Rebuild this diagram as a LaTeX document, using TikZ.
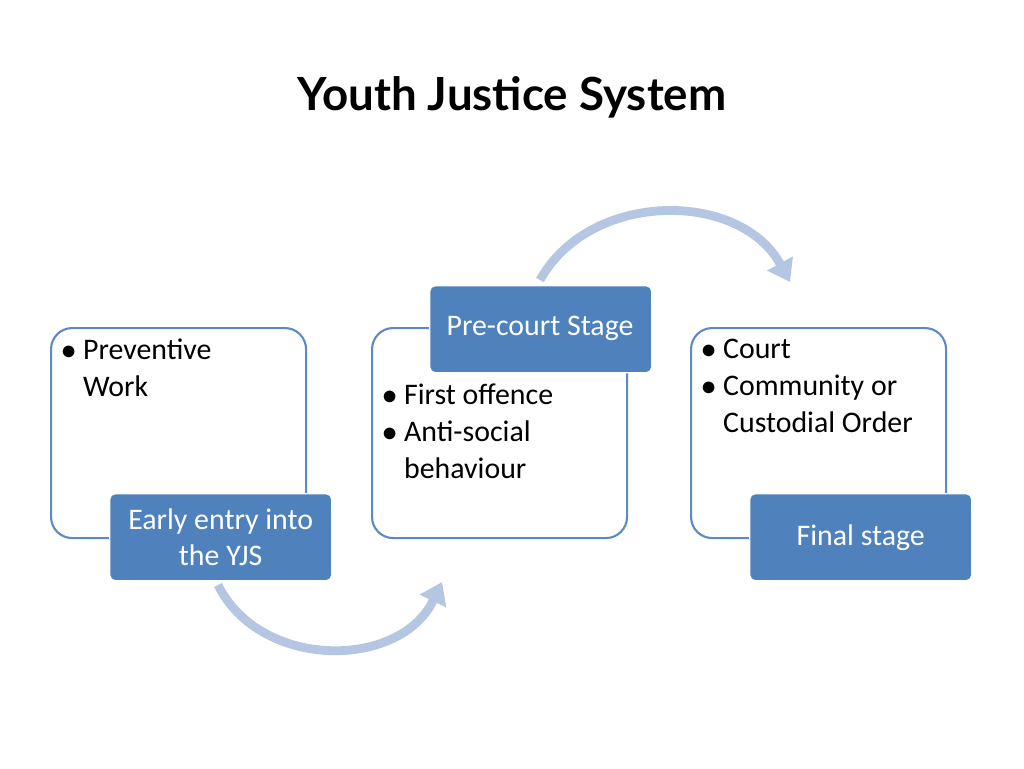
\documentclass[tikz,border=0pt]{standalone}
\usepackage{fontspec}
\setmainfont{Carlito}
\newfontfamily\titlefont{Lato}
\usetikzlibrary{arrows.meta}
\definecolor{boxblue}{HTML}{4F81BD}
\definecolor{lineblue}{HTML}{5B8AC6}
\definecolor{arcblue}{HTML}{B4C6E2}
\tikzset{
  panel/.style={draw=lineblue, line width=1.2pt, fill=white, rounded corners=12pt,
    minimum width=255*0.02cm, minimum height=210*0.02cm, anchor=north west},
  tag/.style={fill=boxblue, draw=white, line width=0.8pt, rounded corners=3pt, text=white,
    minimum width=222*0.02cm, minimum height=87*0.02cm, anchor=north west, align=center,
    font=\fontsize{17}{21}\selectfont},
  items/.style={anchor=north west, align=left, font=\fontsize{17}{21}\selectfont},
  arc/.style={draw=arcblue, line width=5pt, -{Triangle[length=12pt,width=16pt]}}
}
\begin{document}
\begin{tikzpicture}[x=0.02cm, y=-0.02cm]
  \useasboundingbox (0,0) rectangle (1024,768);
  \node[font=\titlefont\bfseries\fontsize{26}{30}\selectfont] (title) at (512,97) {Youth Justice System};

  % arcs
  \coordinate (a1s) at (218,585);
  \coordinate (a1e) at (442,582);
  \coordinate (a2s) at (540,280);
  \coordinate (a2e) at (790,282);
  \draw[arc] (a1s) .. controls (260,670) and (400,670) .. (a1e);
  \draw[arc] (a2s) .. controls (590,190) and (740,190) .. (a2e);

  % panels
  \node[panel] (p1) at (50,327) {};
  \node[panel] (p2) at (371,327) {};
  \node[panel] (p3) at (690,327) {};

  \node[items] (t1) at (55,333) {$\bullet$ Preventive\\\hphantom{$\bullet$ }Work};
  \node[items] (t2) at (376,378) {$\bullet$ First offence\\$\bullet$ Anti-social\\\hphantom{$\bullet$ }behaviour};
  \node[items] (t3) at (695,333) {$\bullet$ Court\\$\bullet$ Community or\\\hphantom{$\bullet$ }Custodial Order};

  % tags
  \node[tag] (g1) at (109,493) {Early entry into\\the YJS};
  \node[tag] (g2) at (429,285) {};
  \node[text=white, font=\fontsize{17}{21}\selectfont] (g2t) at (540,328) {Pre-court Stage};
  \node[tag] (g3) at (749,493) {Final stage};
\end{tikzpicture}
\end{document}
